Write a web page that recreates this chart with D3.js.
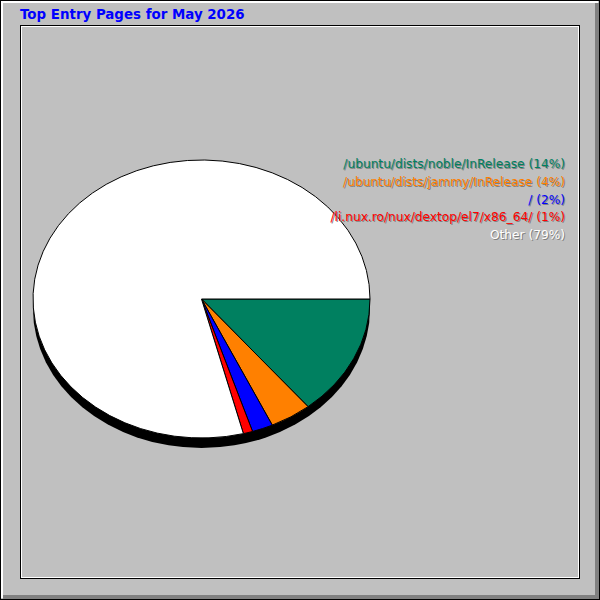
<!DOCTYPE html>
<html>
<head>
<meta charset="utf-8">
<script src="https://cdn.jsdelivr.net/npm/d3@7"></script>
<style>
  body { margin: 0; background: #fff; }
  svg { display: block; }
  text { font-family: "DejaVu Sans", sans-serif; }
</style>
</head>
<body>
<div id="pie_chart"></div>
<script>
var title = "Top Entry Pages for May 2026";
var pages = ["/ubuntu/dists/noble/InRelease", "/ubuntu/dists/jammy/InRelease", "/",
             "/li.nux.ro/nux/dextop/el7/x86_64/", "Other"];
var percents = [14.1, 4.0, 2.0, 0.9, 79.0];
var colors = ["#008060", "#ff8000", "#0000ff", "#ff0000", "#ffffff"];

var width = 600,
    height = 600,
    cx = 201.5,
    cy = 299,
    rx = 168.5,
    ry = 139,
    depth = 10,
    legend_x = 565,
    legend_y = 168,
    legend_gap = 17.8;

var svg = d3.select("#pie_chart").append("svg")
  .attr("width", width)
  .attr("height", height);

// outer bevel
svg.append("rect").attr("width", width).attr("height", height).attr("fill", "#c0c0c0");
svg.append("rect").attr("x", 1).attr("y", 1).attr("width", 597).attr("height", 2).attr("fill", "#fff");
svg.append("rect").attr("x", 1).attr("y", 1).attr("width", 2).attr("height", 597).attr("fill", "#fff");
svg.append("rect").attr("x", 595).attr("y", 3).attr("width", 4).attr("height", 596).attr("fill", "#808080");
svg.append("rect").attr("x", 3).attr("y", 595).attr("width", 596).attr("height", 4).attr("fill", "#808080");
svg.append("rect").attr("x", 0.5).attr("y", 0.5).attr("width", 599).attr("height", 599)
  .attr("fill", "none").attr("stroke", "#000");

// inner frame
svg.append("rect").attr("x", 20.5).attr("y", 25.5).attr("width", 559).attr("height", 553)
  .attr("fill", "none").attr("stroke", "#000");
svg.append("rect").attr("x", 21.5).attr("y", 26.5).attr("width", 557).attr("height", 551)
  .attr("fill", "none").attr("stroke", "#fff");
svg.append("line").attr("x1", 20.5).attr("y1", 25.5).attr("x2", 579).attr("y2", 25.5).attr("stroke", "#000");
svg.append("line").attr("x1", 20.5).attr("y1", 25.5).attr("x2", 20.5).attr("y2", 578).attr("stroke", "#000");

svg.append("text")
  .attr("x", 20)
  .attr("y", 19)
  .attr("fill", "#0000ff")
  .style("font-size", "13.4px")
  .style("font-weight", "bold")
  .text(title);

// shadow under the pie
svg.append("ellipse")
  .attr("cx", cx).attr("cy", cy + depth)
  .attr("rx", rx).attr("ry", ry)
  .attr("fill", "#000");

var pie = d3.pie().sort(null)
  .startAngle(Math.PI / 2)
  .endAngle(Math.PI / 2 + 2 * Math.PI);

var arc = d3.arc().innerRadius(0).outerRadius(rx);

var g = svg.append("g")
  .attr("transform", "translate(" + cx + "," + cy + ") scale(1," + (ry / rx) + ")");

g.selectAll("path.slice")
  .data(pie(percents))
  .enter()
    .append("path")
    .attr("class", "slice")
    .attr("d", arc)
    .attr("fill", function (d, i) { return colors[i]; })
    .attr("stroke", "#000")
    .attr("stroke-width", 1)
    .attr("vector-effect", "non-scaling-stroke");

var legend = svg.selectAll("g.legend")
  .data(pages)
  .enter().append("g")
    .attr("class", "legend")
    .attr("transform", function (d, i) { return "translate(" + legend_x + "," + (legend_y + i * legend_gap) + ")"; });

function label(d, i) { return d + " (" + d3.format(".0f")(percents[i]) + "%)"; }

legend.append("text")
  .attr("x", 1).attr("y", 1)
  .attr("text-anchor", "end")
  .attr("fill", "#808080")
  .style("font-size", "12.2px")
  .text(label);

legend.append("text")
  .attr("text-anchor", "end")
  .attr("fill", function (d, i) { return colors[i]; })
  .style("font-size", "12.2px")
  .text(label);
</script>
</body>
</html>
